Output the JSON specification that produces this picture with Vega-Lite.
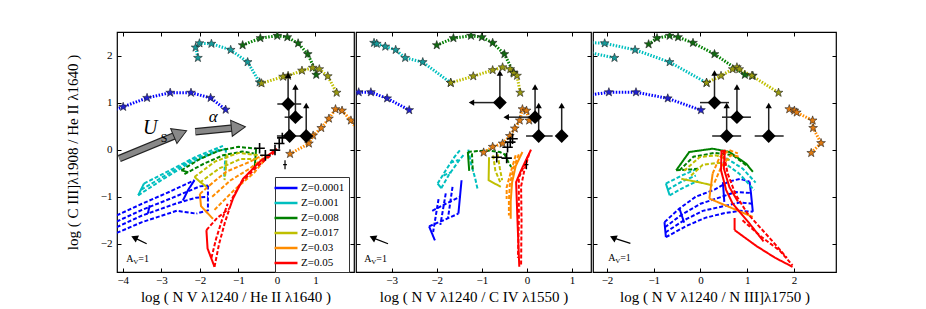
{
"$schema": "https://vega.github.io/schema/vega-lite/v6.json",
"padding": {"left": 64, "top": 30, "right": 5, "bottom": 5},
"background": "white",
"spacing": -3,
"config": {
 "view": {"stroke": "black", "strokeWidth": 1.2},
 "axis": {"labelFont": "Liberation Serif", "titleFont": "Liberation Serif", "labelFontSize": 11, "titleFontSize": 15, "titleFontWeight": "normal", "tickSize": -4, "tickColor": "black", "tickWidth": 1, "domain": false, "grid": false, "labelColor": "black", "titleColor": "black", "minExtent": 0, "format": "d"},
 "axisX": {"labelPadding": 6, "titlePadding": 4},
 "axisY": {"labelPadding": 9, "titlePadding": 20}
},
"datasets": {
 "grid": [
  {"p":1,"z":"Z=0.0001","s":"b1","d":"dashed","x":-4.3,"y":-1.45},{"p":1,"z":"Z=0.0001","s":"b1","d":"dashed","x":-3.5,"y":-1.15},{"p":1,"z":"Z=0.0001","s":"b1","d":"dashed","x":-2.8,"y":-0.9},{"p":1,"z":"Z=0.0001","s":"b1","d":"dashed","x":-2.14,"y":-0.65},
  {"p":1,"z":"Z=0.0001","s":"b2","d":"dashed","x":-4.3,"y":-1.58},{"p":1,"z":"Z=0.0001","s":"b2","d":"dashed","x":-3.5,"y":-1.28},{"p":1,"z":"Z=0.0001","s":"b2","d":"dashed","x":-2.7,"y":-1.02},{"p":1,"z":"Z=0.0001","s":"b2","d":"dashed","x":-2.0,"y":-0.78},{"p":1,"z":"Z=0.0001","s":"b2","d":"dashed","x":-1.79,"y":-0.76},
  {"p":1,"z":"Z=0.0001","s":"b3","d":"dashed","x":-4.3,"y":-1.7},{"p":1,"z":"Z=0.0001","s":"b3","d":"dashed","x":-3.5,"y":-1.4},{"p":1,"z":"Z=0.0001","s":"b3","d":"dashed","x":-2.6,"y":-1.14},{"p":1,"z":"Z=0.0001","s":"b3","d":"dashed","x":-2.1,"y":-1.02},{"p":1,"z":"Z=0.0001","s":"b3","d":"dashed","x":-1.79,"y":-1.0},
  {"p":1,"z":"Z=0.0001","s":"b4","d":"dashed","x":-4.3,"y":-1.82},{"p":1,"z":"Z=0.0001","s":"b4","d":"dashed","x":-3.5,"y":-1.54},{"p":1,"z":"Z=0.0001","s":"b4","d":"dashed","x":-2.6,"y":-1.3},{"p":1,"z":"Z=0.0001","s":"b4","d":"dashed","x":-2.09,"y":-1.36},
  {"p":1,"z":"Z=0.0001","s":"b5","d":"solid","x":-2.14,"y":-0.65},{"p":1,"z":"Z=0.0001","s":"b5","d":"solid","x":-2.3,"y":-0.85},{"p":1,"z":"Z=0.0001","s":"b5","d":"solid","x":-2.44,"y":-1.08},
  {"p":1,"z":"Z=0.0001","s":"b6","d":"solid","x":-3.3,"y":-1.18},{"p":1,"z":"Z=0.0001","s":"b6","d":"solid","x":-3.35,"y":-1.36},
  {"p":1,"z":"Z=0.0001","s":"b7","d":"dashed","x":-1.79,"y":-0.76},{"p":1,"z":"Z=0.0001","s":"b7","d":"dashed","x":-1.79,"y":-1.29},{"p":1,"z":"Z=0.0001","s":"b7","d":"dashed","x":-2.09,"y":-1.36},
  {"p":1,"z":"Z=0.001","s":"c1","d":"dashed","x":-3.6,"y":-0.97},{"p":1,"z":"Z=0.001","s":"c1","d":"dashed","x":-3.0,"y":-0.65},{"p":1,"z":"Z=0.001","s":"c1","d":"dashed","x":-2.3,"y":-0.3},{"p":1,"z":"Z=0.001","s":"c1","d":"dashed","x":-1.6,"y":-0.05},{"p":1,"z":"Z=0.001","s":"c1","d":"dashed","x":-1.32,"y":0.02},
  {"p":1,"z":"Z=0.001","s":"c2","d":"dashed","x":-3.52,"y":-0.85},{"p":1,"z":"Z=0.001","s":"c2","d":"dashed","x":-2.9,"y":-0.55},{"p":1,"z":"Z=0.001","s":"c2","d":"dashed","x":-2.2,"y":-0.22},{"p":1,"z":"Z=0.001","s":"c2","d":"dashed","x":-1.5,"y":0.0},
  {"p":1,"z":"Z=0.001","s":"c3","d":"dashed","x":-3.45,"y":-0.72},{"p":1,"z":"Z=0.001","s":"c3","d":"dashed","x":-2.8,"y":-0.45},{"p":1,"z":"Z=0.001","s":"c3","d":"dashed","x":-2.1,"y":-0.15},{"p":1,"z":"Z=0.001","s":"c3","d":"dashed","x":-1.4,"y":0.08},
  {"p":1,"z":"Z=0.001","s":"c4","d":"solid","x":-3.6,"y":-0.97},{"p":1,"z":"Z=0.001","s":"c4","d":"solid","x":-3.45,"y":-0.72},
  {"p":1,"z":"Z=0.001","s":"c5","d":"dashed","x":-1.32,"y":0.02},{"p":1,"z":"Z=0.001","s":"c5","d":"dashed","x":-1.35,"y":-0.3},{"p":1,"z":"Z=0.001","s":"c5","d":"dashed","x":-1.37,"y":-0.62},
  {"p":1,"z":"Z=0.008","s":"g1","d":"dashed","x":-2.48,"y":-0.44},{"p":1,"z":"Z=0.008","s":"g1","d":"dashed","x":-2.0,"y":-0.2},{"p":1,"z":"Z=0.008","s":"g1","d":"dashed","x":-1.5,"y":-0.02},{"p":1,"z":"Z=0.008","s":"g1","d":"dashed","x":-1.0,"y":0.06},{"p":1,"z":"Z=0.008","s":"g1","d":"dashed","x":-0.54,"y":0.02},
  {"p":1,"z":"Z=0.008","s":"g2","d":"dashed","x":-2.4,"y":-0.52},{"p":1,"z":"Z=0.008","s":"g2","d":"dashed","x":-1.9,"y":-0.3},{"p":1,"z":"Z=0.008","s":"g2","d":"dashed","x":-1.4,"y":-0.12},{"p":1,"z":"Z=0.008","s":"g2","d":"dashed","x":-0.9,"y":-0.04},{"p":1,"z":"Z=0.008","s":"g2","d":"dashed","x":-0.6,"y":-0.08},
  {"p":1,"z":"Z=0.008","s":"g3","d":"solid","x":-0.54,"y":0.02},{"p":1,"z":"Z=0.008","s":"g3","d":"solid","x":-0.56,"y":-0.2},{"p":1,"z":"Z=0.008","s":"g3","d":"solid","x":-0.58,"y":-0.4},
  {"p":1,"z":"Z=0.008","s":"g4","d":"solid","x":-2.48,"y":-0.44},{"p":1,"z":"Z=0.008","s":"g4","d":"solid","x":-2.3,"y":-0.48},
  {"p":1,"z":"Z=0.017","s":"y1","d":"dashed","x":-2.14,"y":-0.58},{"p":1,"z":"Z=0.017","s":"y1","d":"dashed","x":-1.6,"y":-0.25},{"p":1,"z":"Z=0.017","s":"y1","d":"dashed","x":-1.0,"y":-0.07},{"p":1,"z":"Z=0.017","s":"y1","d":"dashed","x":-0.45,"y":-0.12},
  {"p":1,"z":"Z=0.017","s":"y2","d":"dashed","x":-2.0,"y":-0.7},{"p":1,"z":"Z=0.017","s":"y2","d":"dashed","x":-1.5,"y":-0.4},{"p":1,"z":"Z=0.017","s":"y2","d":"dashed","x":-0.95,"y":-0.2},{"p":1,"z":"Z=0.017","s":"y2","d":"dashed","x":-0.45,"y":-0.2},
  {"p":1,"z":"Z=0.017","s":"y3","d":"solid","x":-2.14,"y":-0.58},{"p":1,"z":"Z=0.017","s":"y3","d":"solid","x":-2.0,"y":-0.68},{"p":1,"z":"Z=0.017","s":"y3","d":"solid","x":-1.83,"y":-0.79},
  {"p":1,"z":"Z=0.017","s":"y4","d":"dashed","x":-1.3,"y":-0.1},{"p":1,"z":"Z=0.017","s":"y4","d":"dashed","x":-1.33,"y":-0.45},{"p":1,"z":"Z=0.017","s":"y4","d":"dashed","x":-1.36,"y":-0.65},
  {"p":1,"z":"Z=0.03","s":"o1","d":"solid","x":-2.0,"y":-0.94},{"p":1,"z":"Z=0.03","s":"o1","d":"solid","x":-1.97,"y":-1.2},{"p":1,"z":"Z=0.03","s":"o1","d":"solid","x":-1.66,"y":-1.47},
  {"p":1,"z":"Z=0.03","s":"o2","d":"dashed","x":-1.75,"y":-0.76},{"p":1,"z":"Z=0.03","s":"o2","d":"dashed","x":-1.32,"y":-0.47},{"p":1,"z":"Z=0.03","s":"o2","d":"dashed","x":-0.71,"y":-0.26},{"p":1,"z":"Z=0.03","s":"o2","d":"dashed","x":-0.37,"y":-0.12},
  {"p":1,"z":"Z=0.03","s":"o3","d":"dashed","x":-1.68,"y":-1.0},{"p":1,"z":"Z=0.03","s":"o3","d":"dashed","x":-1.2,"y":-0.65},{"p":1,"z":"Z=0.03","s":"o3","d":"dashed","x":-0.7,"y":-0.4},{"p":1,"z":"Z=0.03","s":"o3","d":"dashed","x":-0.3,"y":-0.15},
  {"p":1,"z":"Z=0.03","s":"o4","d":"dashed","x":-1.62,"y":-1.28},{"p":1,"z":"Z=0.03","s":"o4","d":"dashed","x":-1.1,"y":-0.85},{"p":1,"z":"Z=0.03","s":"o4","d":"dashed","x":-0.6,"y":-0.5},{"p":1,"z":"Z=0.03","s":"o4","d":"dashed","x":-0.25,"y":-0.15},
  {"p":1,"z":"Z=0.03","s":"o5","d":"dashed","x":-2.0,"y":-0.94},{"p":1,"z":"Z=0.03","s":"o5","d":"dashed","x":-1.75,"y":-0.76},
  {"p":1,"z":"Z=0.05","s":"r1","d":"solid","x":0.0,"y":0.02},{"p":1,"z":"Z=0.05","s":"r1","d":"solid","x":-0.45,"y":-0.26},{"p":1,"z":"Z=0.05","s":"r1","d":"solid","x":-0.88,"y":-0.62},{"p":1,"z":"Z=0.05","s":"r1","d":"solid","x":-1.14,"y":-1.04},{"p":1,"z":"Z=0.05","s":"r1","d":"solid","x":-1.23,"y":-1.25},
  {"p":1,"z":"Z=0.05","s":"r2","d":"solid","x":-1.83,"y":-1.71},{"p":1,"z":"Z=0.05","s":"r2","d":"solid","x":-1.8,"y":-2.1},{"p":1,"z":"Z=0.05","s":"r2","d":"solid","x":-1.62,"y":-2.49},
  {"p":1,"z":"Z=0.05","s":"r3","d":"dashed","x":-1.62,"y":-2.49},{"p":1,"z":"Z=0.05","s":"r3","d":"dashed","x":-1.5,"y":-2.0},{"p":1,"z":"Z=0.05","s":"r3","d":"dashed","x":-1.35,"y":-1.55},{"p":1,"z":"Z=0.05","s":"r3","d":"dashed","x":-1.23,"y":-1.25},
  {"p":1,"z":"Z=0.05","s":"r4","d":"dashed","x":-1.7,"y":-2.3},{"p":1,"z":"Z=0.05","s":"r4","d":"dashed","x":-1.58,"y":-1.9},{"p":1,"z":"Z=0.05","s":"r4","d":"dashed","x":-1.42,"y":-1.48},{"p":1,"z":"Z=0.05","s":"r4","d":"dashed","x":-1.28,"y":-1.15},
  {"p":1,"z":"Z=0.05","s":"r5","d":"dashed","x":-1.83,"y":-1.71},{"p":1,"z":"Z=0.05","s":"r5","d":"dashed","x":-1.55,"y":-1.45},{"p":1,"z":"Z=0.05","s":"r5","d":"dashed","x":-1.23,"y":-1.25},
  {"p":1,"z":"Z=0.05","s":"r6","d":"dashed","x":-0.05,"y":-0.05},{"p":1,"z":"Z=0.05","s":"r6","d":"dashed","x":-0.5,"y":-0.35},{"p":1,"z":"Z=0.05","s":"r6","d":"dashed","x":-0.95,"y":-0.72},{"p":1,"z":"Z=0.05","s":"r6","d":"dashed","x":-1.2,"y":-1.1},
  {"p":2,"z":"Z=0.0001","s":"b1","d":"solid","x":-1.45,"y":-0.65},{"p":2,"z":"Z=0.0001","s":"b1","d":"solid","x":-1.52,"y":-1.36},
  {"p":2,"z":"Z=0.0001","s":"b2","d":"dashed","x":-1.65,"y":-0.79},{"p":2,"z":"Z=0.0001","s":"b2","d":"dashed","x":-1.75,"y":-1.45},
  {"p":2,"z":"Z=0.0001","s":"b3","d":"dashed","x":-1.8,"y":-0.93},{"p":2,"z":"Z=0.0001","s":"b3","d":"dashed","x":-1.92,"y":-1.6},
  {"p":2,"z":"Z=0.0001","s":"b4","d":"dashed","x":-1.96,"y":-1.05},{"p":2,"z":"Z=0.0001","s":"b4","d":"dashed","x":-2.08,"y":-1.75},
  {"p":2,"z":"Z=0.0001","s":"b5","d":"solid","x":-2.17,"y":-1.63},{"p":2,"z":"Z=0.0001","s":"b5","d":"solid","x":-2.04,"y":-1.93},
  {"p":2,"z":"Z=0.0001","s":"b6","d":"dashed","x":-2.17,"y":-1.63},{"p":2,"z":"Z=0.0001","s":"b6","d":"dashed","x":-1.85,"y":-1.5},{"p":2,"z":"Z=0.0001","s":"b6","d":"dashed","x":-1.52,"y":-1.36},
  {"p":2,"z":"Z=0.0001","s":"b7","d":"dashed","x":-2.1,"y":-1.3},{"p":2,"z":"Z=0.0001","s":"b7","d":"dashed","x":-1.8,"y":-1.15},{"p":2,"z":"Z=0.0001","s":"b7","d":"dashed","x":-1.48,"y":-1.0},
  {"p":2,"z":"Z=0.001","s":"c1","d":"dashed","x":-1.98,"y":-0.72},{"p":2,"z":"Z=0.001","s":"c1","d":"dashed","x":-1.8,"y":-0.44},{"p":2,"z":"Z=0.001","s":"c1","d":"dashed","x":-1.61,"y":-0.16},{"p":2,"z":"Z=0.001","s":"c1","d":"dashed","x":-1.46,"y":0.02},
  {"p":2,"z":"Z=0.001","s":"c2","d":"dashed","x":-1.9,"y":-0.82},{"p":2,"z":"Z=0.001","s":"c2","d":"dashed","x":-1.72,"y":-0.52},{"p":2,"z":"Z=0.001","s":"c2","d":"dashed","x":-1.52,"y":-0.25},{"p":2,"z":"Z=0.001","s":"c2","d":"dashed","x":-1.38,"y":-0.08},
  {"p":2,"z":"Z=0.001","s":"c3","d":"solid","x":-1.98,"y":-0.72},{"p":2,"z":"Z=0.001","s":"c3","d":"solid","x":-1.9,"y":-0.82},
  {"p":2,"z":"Z=0.001","s":"c4","d":"dashed","x":-1.3,"y":0.0},{"p":2,"z":"Z=0.001","s":"c4","d":"dashed","x":-1.24,"y":-0.3},{"p":2,"z":"Z=0.001","s":"c4","d":"dashed","x":-1.15,"y":-0.6},{"p":2,"z":"Z=0.001","s":"c4","d":"dashed","x":-1.09,"y":-0.86},
  {"p":2,"z":"Z=0.001","s":"c5","d":"dashed","x":-1.85,"y":-0.55},{"p":2,"z":"Z=0.001","s":"c5","d":"dashed","x":-1.68,"y":-0.48},
  {"p":2,"z":"Z=0.001","s":"c6","d":"dashed","x":-1.7,"y":-0.28},{"p":2,"z":"Z=0.001","s":"c6","d":"dashed","x":-1.52,"y":-0.22},
  {"p":2,"z":"Z=0.008","s":"g1","d":"solid","x":-1.31,"y":-0.05},{"p":2,"z":"Z=0.008","s":"g1","d":"solid","x":-1.28,"y":-0.45},
  {"p":2,"z":"Z=0.008","s":"g2","d":"dashed","x":-1.31,"y":-0.05},{"p":2,"z":"Z=0.008","s":"g2","d":"dashed","x":-1.1,"y":-0.03},{"p":2,"z":"Z=0.008","s":"g2","d":"dashed","x":-0.87,"y":-0.02},{"p":2,"z":"Z=0.008","s":"g2","d":"dashed","x":-0.6,"y":-0.05},{"p":2,"z":"Z=0.008","s":"g2","d":"dashed","x":-0.45,"y":-0.12},
  {"p":2,"z":"Z=0.008","s":"g3","d":"dashed","x":-1.22,"y":-0.08},{"p":2,"z":"Z=0.008","s":"g3","d":"dashed","x":-1.2,"y":-0.47},
  {"p":2,"z":"Z=0.008","s":"g4","d":"dashed","x":-0.5,"y":-0.09},{"p":2,"z":"Z=0.008","s":"g4","d":"dashed","x":-0.42,"y":-0.25},{"p":2,"z":"Z=0.008","s":"g4","d":"dashed","x":-0.35,"y":-0.37},
  {"p":2,"z":"Z=0.017","s":"y1","d":"solid","x":-0.84,"y":-0.16},{"p":2,"z":"Z=0.017","s":"y1","d":"solid","x":-0.85,"y":-0.65},{"p":2,"z":"Z=0.017","s":"y1","d":"solid","x":-0.58,"y":-0.79},
  {"p":2,"z":"Z=0.017","s":"y2","d":"dashed","x":-0.75,"y":-0.12},{"p":2,"z":"Z=0.017","s":"y2","d":"dashed","x":-0.7,"y":-0.45},{"p":2,"z":"Z=0.017","s":"y2","d":"dashed","x":-0.58,"y":-0.72},
  {"p":2,"z":"Z=0.017","s":"y3","d":"dashed","x":-0.65,"y":-0.1},{"p":2,"z":"Z=0.017","s":"y3","d":"dashed","x":-0.6,"y":-0.4},{"p":2,"z":"Z=0.017","s":"y3","d":"dashed","x":-0.55,"y":-0.65},
  {"p":2,"z":"Z=0.03","s":"o1","d":"solid","x":-0.1,"y":-0.05},{"p":2,"z":"Z=0.03","s":"o1","d":"solid","x":-0.25,"y":-0.35},{"p":2,"z":"Z=0.03","s":"o1","d":"solid","x":-0.33,"y":-0.7},{"p":2,"z":"Z=0.03","s":"o1","d":"solid","x":-0.36,"y":-1.1},{"p":2,"z":"Z=0.03","s":"o1","d":"solid","x":-0.36,"y":-1.47},
  {"p":2,"z":"Z=0.03","s":"o2","d":"dashed","x":-0.18,"y":-0.1},{"p":2,"z":"Z=0.03","s":"o2","d":"dashed","x":-0.3,"y":-0.4},{"p":2,"z":"Z=0.03","s":"o2","d":"dashed","x":-0.38,"y":-0.75},{"p":2,"z":"Z=0.03","s":"o2","d":"dashed","x":-0.4,"y":-1.1},{"p":2,"z":"Z=0.03","s":"o2","d":"dashed","x":-0.4,"y":-1.4},
  {"p":2,"z":"Z=0.03","s":"o3","d":"dashed","x":-0.25,"y":-0.12},{"p":2,"z":"Z=0.03","s":"o3","d":"dashed","x":-0.35,"y":-0.45},{"p":2,"z":"Z=0.03","s":"o3","d":"dashed","x":-0.45,"y":-0.8},{"p":2,"z":"Z=0.03","s":"o3","d":"dashed","x":-0.45,"y":-1.05},
  {"p":2,"z":"Z=0.05","s":"r1","d":"solid","x":0.09,"y":0.0},{"p":2,"z":"Z=0.05","s":"r1","d":"solid","x":-0.13,"y":-0.44},{"p":2,"z":"Z=0.05","s":"r1","d":"solid","x":-0.24,"y":-0.69},{"p":2,"z":"Z=0.05","s":"r1","d":"solid","x":-0.21,"y":-1.5},{"p":2,"z":"Z=0.05","s":"r1","d":"solid","x":-0.17,"y":-2.49},
  {"p":2,"z":"Z=0.05","s":"r2","d":"dashed","x":0.05,"y":-0.08},{"p":2,"z":"Z=0.05","s":"r2","d":"dashed","x":-0.06,"y":-0.45},{"p":2,"z":"Z=0.05","s":"r2","d":"dashed","x":-0.13,"y":-0.78},{"p":2,"z":"Z=0.05","s":"r2","d":"dashed","x":-0.12,"y":-1.5},{"p":2,"z":"Z=0.05","s":"r2","d":"dashed","x":-0.13,"y":-2.45},
  {"p":2,"z":"Z=0.05","s":"r3","d":"dashed","x":0.02,"y":-0.15},{"p":2,"z":"Z=0.05","s":"r3","d":"dashed","x":-0.18,"y":-0.6},{"p":2,"z":"Z=0.05","s":"r3","d":"dashed","x":-0.18,"y":-1.5},{"p":2,"z":"Z=0.05","s":"r3","d":"dashed","x":-0.2,"y":-2.3},
  {"p":3,"z":"Z=0.0001","s":"b1","d":"dashed","x":-0.77,"y":-1.54},{"p":3,"z":"Z=0.0001","s":"b1","d":"dashed","x":-0.45,"y":-1.25},{"p":3,"z":"Z=0.0001","s":"b1","d":"dashed","x":-0.1,"y":-1.0},{"p":3,"z":"Z=0.0001","s":"b1","d":"dashed","x":0.3,"y":-0.85},{"p":3,"z":"Z=0.0001","s":"b1","d":"dashed","x":0.6,"y":-0.68},{"p":3,"z":"Z=0.0001","s":"b1","d":"dashed","x":0.85,"y":-0.62},{"p":3,"z":"Z=0.0001","s":"b1","d":"dashed","x":1.05,"y":-0.68},
  {"p":3,"z":"Z=0.0001","s":"b2","d":"dashed","x":-0.76,"y":-1.65},{"p":3,"z":"Z=0.0001","s":"b2","d":"dashed","x":-0.4,"y":-1.38},{"p":3,"z":"Z=0.0001","s":"b2","d":"dashed","x":0.0,"y":-1.15},{"p":3,"z":"Z=0.0001","s":"b2","d":"dashed","x":0.4,"y":-1.02},{"p":3,"z":"Z=0.0001","s":"b2","d":"dashed","x":0.75,"y":-0.9},{"p":3,"z":"Z=0.0001","s":"b2","d":"dashed","x":1.08,"y":-0.92},
  {"p":3,"z":"Z=0.0001","s":"b3","d":"dashed","x":-0.75,"y":-1.76},{"p":3,"z":"Z=0.0001","s":"b3","d":"dashed","x":-0.35,"y":-1.5},{"p":3,"z":"Z=0.0001","s":"b3","d":"dashed","x":0.05,"y":-1.3},{"p":3,"z":"Z=0.0001","s":"b3","d":"dashed","x":0.5,"y":-1.2},{"p":3,"z":"Z=0.0001","s":"b3","d":"dashed","x":0.85,"y":-1.12},{"p":3,"z":"Z=0.0001","s":"b3","d":"dashed","x":1.1,"y":-1.15},
  {"p":3,"z":"Z=0.0001","s":"b4","d":"dashed","x":-0.74,"y":-1.86},{"p":3,"z":"Z=0.0001","s":"b4","d":"dashed","x":-0.3,"y":-1.62},{"p":3,"z":"Z=0.0001","s":"b4","d":"dashed","x":0.1,"y":-1.45},{"p":3,"z":"Z=0.0001","s":"b4","d":"dashed","x":0.5,"y":-1.35},{"p":3,"z":"Z=0.0001","s":"b4","d":"dashed","x":0.85,"y":-1.3},{"p":3,"z":"Z=0.0001","s":"b4","d":"dashed","x":1.12,"y":-1.32},
  {"p":3,"z":"Z=0.0001","s":"b5","d":"solid","x":1.05,"y":-0.68},{"p":3,"z":"Z=0.0001","s":"b5","d":"solid","x":1.08,"y":-0.92},{"p":3,"z":"Z=0.0001","s":"b5","d":"solid","x":1.12,"y":-1.32},
  {"p":3,"z":"Z=0.0001","s":"b6","d":"solid","x":-0.77,"y":-1.54},{"p":3,"z":"Z=0.0001","s":"b6","d":"solid","x":-0.74,"y":-1.86},
  {"p":3,"z":"Z=0.0001","s":"b7","d":"solid","x":0.48,"y":-0.69},{"p":3,"z":"Z=0.0001","s":"b7","d":"solid","x":0.51,"y":-1.11},
  {"p":3,"z":"Z=0.0001","s":"b8","d":"solid","x":-0.45,"y":-1.25},{"p":3,"z":"Z=0.0001","s":"b8","d":"solid","x":-0.35,"y":-1.55},
  {"p":3,"z":"Z=0.001","s":"c1","d":"dashed","x":-0.74,"y":-0.72},{"p":3,"z":"Z=0.001","s":"c1","d":"dashed","x":-0.4,"y":-0.55},{"p":3,"z":"Z=0.001","s":"c1","d":"dashed","x":-0.1,"y":-0.42},
  {"p":3,"z":"Z=0.001","s":"c2","d":"dashed","x":-0.7,"y":-0.85},{"p":3,"z":"Z=0.001","s":"c2","d":"dashed","x":-0.4,"y":-0.68},{"p":3,"z":"Z=0.001","s":"c2","d":"dashed","x":-0.1,"y":-0.55},
  {"p":3,"z":"Z=0.001","s":"c3","d":"dashed","x":-0.66,"y":-0.97},{"p":3,"z":"Z=0.001","s":"c3","d":"dashed","x":-0.35,"y":-0.8},{"p":3,"z":"Z=0.001","s":"c3","d":"dashed","x":-0.05,"y":-0.66},
  {"p":3,"z":"Z=0.001","s":"c4","d":"solid","x":-0.74,"y":-0.72},{"p":3,"z":"Z=0.001","s":"c4","d":"solid","x":-0.66,"y":-0.97},
  {"p":3,"z":"Z=0.001","s":"c5","d":"dashed","x":0.48,"y":-0.26},{"p":3,"z":"Z=0.001","s":"c5","d":"dashed","x":0.83,"y":-0.51},{"p":3,"z":"Z=0.001","s":"c5","d":"dashed","x":1.15,"y":-0.86},
  {"p":3,"z":"Z=0.001","s":"c6","d":"dashed","x":0.55,"y":-0.18},{"p":3,"z":"Z=0.001","s":"c6","d":"dashed","x":0.9,"y":-0.4},{"p":3,"z":"Z=0.001","s":"c6","d":"dashed","x":1.18,"y":-0.7},
  {"p":3,"z":"Z=0.008","s":"g1","d":"solid","x":-0.52,"y":-0.44},{"p":3,"z":"Z=0.008","s":"g1","d":"solid","x":-0.24,"y":-0.05},{"p":3,"z":"Z=0.008","s":"g1","d":"solid","x":0.26,"y":0.02},{"p":3,"z":"Z=0.008","s":"g1","d":"solid","x":0.62,"y":-0.05},{"p":3,"z":"Z=0.008","s":"g1","d":"solid","x":0.98,"y":-0.3},{"p":3,"z":"Z=0.008","s":"g1","d":"solid","x":1.12,"y":-0.47},
  {"p":3,"z":"Z=0.008","s":"g2","d":"dashed","x":-0.45,"y":-0.44},{"p":3,"z":"Z=0.008","s":"g2","d":"dashed","x":-0.15,"y":-0.15},{"p":3,"z":"Z=0.008","s":"g2","d":"dashed","x":0.3,"y":-0.07},{"p":3,"z":"Z=0.008","s":"g2","d":"dashed","x":0.7,"y":-0.12},{"p":3,"z":"Z=0.008","s":"g2","d":"dashed","x":1.0,"y":-0.35},
  {"p":3,"z":"Z=0.008","s":"g3","d":"dashed","x":-0.52,"y":-0.44},{"p":3,"z":"Z=0.008","s":"g3","d":"dashed","x":-0.2,"y":-0.42},{"p":3,"z":"Z=0.008","s":"g3","d":"dashed","x":0.0,"y":-0.4},
  {"p":3,"z":"Z=0.017","s":"y1","d":"solid","x":-0.41,"y":-0.62},{"p":3,"z":"Z=0.017","s":"y1","d":"solid","x":0.0,"y":-0.7},{"p":3,"z":"Z=0.017","s":"y1","d":"solid","x":0.26,"y":-0.76},
  {"p":3,"z":"Z=0.017","s":"y2","d":"dashed","x":-0.35,"y":-0.45},{"p":3,"z":"Z=0.017","s":"y2","d":"dashed","x":-0.02,"y":-0.16},{"p":3,"z":"Z=0.017","s":"y2","d":"dashed","x":0.33,"y":-0.12},{"p":3,"z":"Z=0.017","s":"y2","d":"dashed","x":0.62,"y":-0.22},
  {"p":3,"z":"Z=0.017","s":"y3","d":"dashed","x":-0.2,"y":-0.55},{"p":3,"z":"Z=0.017","s":"y3","d":"dashed","x":0.05,"y":-0.32},{"p":3,"z":"Z=0.017","s":"y3","d":"dashed","x":0.4,"y":-0.28},{"p":3,"z":"Z=0.017","s":"y3","d":"dashed","x":0.6,"y":-0.35},
  {"p":3,"z":"Z=0.03","s":"o1","d":"solid","x":0.19,"y":-1.04},{"p":3,"z":"Z=0.03","s":"o1","d":"solid","x":0.62,"y":-1.22},{"p":3,"z":"Z=0.03","s":"o1","d":"solid","x":1.12,"y":-1.43},
  {"p":3,"z":"Z=0.03","s":"o2","d":"dashed","x":0.26,"y":-0.51},{"p":3,"z":"Z=0.03","s":"o2","d":"dashed","x":0.41,"y":-0.16},{"p":3,"z":"Z=0.03","s":"o2","d":"dashed","x":0.62,"y":-0.01},{"p":3,"z":"Z=0.03","s":"o2","d":"dashed","x":0.8,"y":-0.08},
  {"p":3,"z":"Z=0.03","s":"o3","d":"dashed","x":0.3,"y":-0.7},{"p":3,"z":"Z=0.03","s":"o3","d":"dashed","x":0.45,"y":-0.35},{"p":3,"z":"Z=0.03","s":"o3","d":"dashed","x":0.65,"y":-0.12},{"p":3,"z":"Z=0.03","s":"o3","d":"dashed","x":0.85,"y":-0.15},
  {"p":3,"z":"Z=0.03","s":"o4","d":"solid","x":0.19,"y":-1.04},{"p":3,"z":"Z=0.03","s":"o4","d":"solid","x":0.26,"y":-0.51},
  {"p":3,"z":"Z=0.05","s":"r1","d":"solid","x":0.45,"y":-0.01},{"p":3,"z":"Z=0.05","s":"r1","d":"solid","x":0.44,"y":-0.44},{"p":3,"z":"Z=0.05","s":"r1","d":"solid","x":0.55,"y":-0.86},{"p":3,"z":"Z=0.05","s":"r1","d":"solid","x":0.69,"y":-1.15},{"p":3,"z":"Z=0.05","s":"r1","d":"solid","x":1.05,"y":-1.57},{"p":3,"z":"Z=0.05","s":"r1","d":"solid","x":1.35,"y":-1.95},
  {"p":3,"z":"Z=0.05","s":"r2","d":"solid","x":0.52,"y":0.0},{"p":3,"z":"Z=0.05","s":"r2","d":"solid","x":0.5,"y":-0.4},{"p":3,"z":"Z=0.05","s":"r2","d":"solid","x":0.62,"y":-0.8},{"p":3,"z":"Z=0.05","s":"r2","d":"solid","x":0.8,"y":-1.1},
  {"p":3,"z":"Z=0.05","s":"r3","d":"solid","x":0.73,"y":-1.71},{"p":3,"z":"Z=0.05","s":"r3","d":"solid","x":1.2,"y":-2.05},{"p":3,"z":"Z=0.05","s":"r3","d":"solid","x":1.6,"y":-2.3},{"p":3,"z":"Z=0.05","s":"r3","d":"solid","x":1.97,"y":-2.49},
  {"p":3,"z":"Z=0.05","s":"r4","d":"dashed","x":0.9,"y":-1.5},{"p":3,"z":"Z=0.05","s":"r4","d":"dashed","x":1.3,"y":-1.85},{"p":3,"z":"Z=0.05","s":"r4","d":"dashed","x":1.7,"y":-2.15},{"p":3,"z":"Z=0.05","s":"r4","d":"dashed","x":1.97,"y":-2.46},
  {"p":3,"z":"Z=0.05","s":"r5","d":"dashed","x":0.48,"y":-0.01},{"p":3,"z":"Z=0.05","s":"r5","d":"dashed","x":0.58,"y":-0.5},{"p":3,"z":"Z=0.05","s":"r5","d":"dashed","x":0.75,"y":-0.95},{"p":3,"z":"Z=0.05","s":"r5","d":"dashed","x":1.0,"y":-1.35},{"p":3,"z":"Z=0.05","s":"r5","d":"dashed","x":1.5,"y":-1.9},{"p":3,"z":"Z=0.05","s":"r5","d":"dashed","x":1.85,"y":-2.3},
  {"p":3,"z":"Z=0.05","s":"r6","d":"solid","x":0.73,"y":-1.71},{"p":3,"z":"Z=0.05","s":"r6","d":"solid","x":0.73,"y":-1.45}
 ],
 "track": [
  {"p":1,"z":"Z=0.0001","s":"b","m":0,"x":-4.4,"y":0.8},{"p":1,"z":"Z=0.0001","s":"b","m":1,"x":-3.99,"y":0.91},{"p":1,"z":"Z=0.0001","s":"b","m":1,"x":-3.37,"y":1.1},{"p":1,"z":"Z=0.0001","s":"b","m":1,"x":-2.77,"y":1.21},{"p":1,"z":"Z=0.0001","s":"b","m":1,"x":-2.23,"y":1.21},{"p":1,"z":"Z=0.0001","s":"b","m":1,"x":-1.72,"y":1.1},{"p":1,"z":"Z=0.0001","s":"b","m":1,"x":-1.33,"y":0.85},
  {"p":1,"z":"Z=0.001","s":"c","m":1,"x":-2.05,"y":1.95},{"p":1,"z":"Z=0.001","s":"c","m":1,"x":-2.11,"y":2.17},{"p":1,"z":"Z=0.001","s":"c","m":1,"x":-2.01,"y":2.26},{"p":1,"z":"Z=0.001","s":"c","m":1,"x":-1.7,"y":2.25},{"p":1,"z":"Z=0.001","s":"c","m":1,"x":-1.2,"y":2.12},{"p":1,"z":"Z=0.001","s":"c","m":1,"x":-0.76,"y":1.86},{"p":1,"z":"Z=0.001","s":"c","m":1,"x":-0.45,"y":1.43},
  {"p":1,"z":"Z=0.008","s":"g","m":1,"x":-0.89,"y":2.22},{"p":1,"z":"Z=0.008","s":"g","m":1,"x":-0.43,"y":2.37},{"p":1,"z":"Z=0.008","s":"g","m":1,"x":0.01,"y":2.42},{"p":1,"z":"Z=0.008","s":"g","m":1,"x":0.27,"y":2.39},{"p":1,"z":"Z=0.008","s":"g","m":1,"x":0.55,"y":2.26},{"p":1,"z":"Z=0.008","s":"g","m":1,"x":0.8,"y":2.03},{"p":1,"z":"Z=0.008","s":"g","m":0,"x":0.93,"y":1.8},{"p":1,"z":"Z=0.008","s":"g","m":1,"x":1.02,"y":1.59},
  {"p":1,"z":"Z=0.017","s":"y","m":1,"x":-0.4,"y":1.41},{"p":1,"z":"Z=0.017","s":"y","m":1,"x":0.16,"y":1.55},{"p":1,"z":"Z=0.017","s":"y","m":1,"x":0.29,"y":1.57},{"p":1,"z":"Z=0.017","s":"y","m":1,"x":0.65,"y":1.68},{"p":1,"z":"Z=0.017","s":"y","m":1,"x":0.93,"y":1.74},{"p":1,"z":"Z=0.017","s":"y","m":1,"x":1.1,"y":1.71},{"p":1,"z":"Z=0.017","s":"y","m":1,"x":1.32,"y":1.56},{"p":1,"z":"Z=0.017","s":"y","m":1,"x":1.55,"y":1.21},
  {"p":1,"z":"Z=0.03","s":"o","m":1,"x":0.34,"y":-0.09},{"p":1,"z":"Z=0.03","s":"o","m":1,"x":0.83,"y":0.13},{"p":1,"z":"Z=0.03","s":"o","m":1,"x":0.94,"y":0.3},{"p":1,"z":"Z=0.03","s":"o","m":1,"x":1.15,"y":0.46},{"p":1,"z":"Z=0.03","s":"o","m":1,"x":1.35,"y":0.66},{"p":1,"z":"Z=0.03","s":"o","m":1,"x":1.52,"y":0.86},{"p":1,"z":"Z=0.03","s":"o","m":1,"x":1.69,"y":0.83},{"p":1,"z":"Z=0.03","s":"o","m":1,"x":1.92,"y":0.62},{"p":1,"z":"Z=0.03","s":"o","m":0,"x":2.15,"y":0.35},
  {"p":2,"z":"Z=0.0001","s":"b","m":0,"x":-4.0,"y":1.22},{"p":2,"z":"Z=0.0001","s":"b","m":1,"x":-3.73,"y":1.22},{"p":2,"z":"Z=0.0001","s":"b","m":1,"x":-3.46,"y":1.22},{"p":2,"z":"Z=0.0001","s":"b","m":1,"x":-3.1,"y":1.09},{"p":2,"z":"Z=0.0001","s":"b","m":1,"x":-2.61,"y":0.84},
  {"p":2,"z":"Z=0.001","s":"c","m":1,"x":-3.39,"y":2.27},{"p":2,"z":"Z=0.001","s":"c","m":1,"x":-3.33,"y":2.25},{"p":2,"z":"Z=0.001","s":"c","m":1,"x":-3.14,"y":2.19},{"p":2,"z":"Z=0.001","s":"c","m":1,"x":-2.91,"y":2.12},{"p":2,"z":"Z=0.001","s":"c","m":1,"x":-2.7,"y":1.95},{"p":2,"z":"Z=0.001","s":"c","m":1,"x":-2.31,"y":1.86},{"p":2,"z":"Z=0.001","s":"c","m":1,"x":-1.69,"y":1.42},
  {"p":2,"z":"Z=0.008","s":"g","m":1,"x":-2.0,"y":2.22},{"p":2,"z":"Z=0.008","s":"g","m":1,"x":-1.63,"y":2.37},{"p":2,"z":"Z=0.008","s":"g","m":1,"x":-1.24,"y":2.42},{"p":2,"z":"Z=0.008","s":"g","m":1,"x":-1.0,"y":2.39},{"p":2,"z":"Z=0.008","s":"g","m":1,"x":-0.76,"y":2.27},{"p":2,"z":"Z=0.008","s":"g","m":1,"x":-0.5,"y":2.03},{"p":2,"z":"Z=0.008","s":"g","m":0,"x":-0.38,"y":1.8},{"p":2,"z":"Z=0.008","s":"g","m":1,"x":-0.3,"y":1.64},
  {"p":2,"z":"Z=0.017","s":"y","m":1,"x":-1.69,"y":1.42},{"p":2,"z":"Z=0.017","s":"y","m":1,"x":-1.19,"y":1.56},{"p":2,"z":"Z=0.017","s":"y","m":1,"x":-0.76,"y":1.69},{"p":2,"z":"Z=0.017","s":"y","m":1,"x":-0.54,"y":1.75},{"p":2,"z":"Z=0.017","s":"y","m":1,"x":-0.37,"y":1.71},{"p":2,"z":"Z=0.017","s":"y","m":1,"x":-0.29,"y":1.62},{"p":2,"z":"Z=0.017","s":"y","m":1,"x":-0.22,"y":1.57},{"p":2,"z":"Z=0.017","s":"y","m":1,"x":-0.15,"y":1.21},
  {"p":2,"z":"Z=0.03","s":"o","m":1,"x":-0.96,"y":-0.06},{"p":2,"z":"Z=0.03","s":"o","m":1,"x":-0.76,"y":0.06},{"p":2,"z":"Z=0.03","s":"o","m":1,"x":-0.54,"y":0.13},{"p":2,"z":"Z=0.03","s":"o","m":1,"x":-0.38,"y":0.29},{"p":2,"z":"Z=0.03","s":"o","m":1,"x":-0.27,"y":0.45},{"p":2,"z":"Z=0.03","s":"o","m":1,"x":-0.16,"y":0.62},{"p":2,"z":"Z=0.03","s":"o","m":1,"x":-0.1,"y":0.86},{"p":2,"z":"Z=0.03","s":"o","m":1,"x":-0.01,"y":0.83},{"p":2,"z":"Z=0.03","s":"o","m":1,"x":0.05,"y":0.62},
  {"p":3,"z":"Z=0.0001","s":"b","m":0,"x":-2.45,"y":1.15},{"p":3,"z":"Z=0.0001","s":"b","m":1,"x":-1.96,"y":1.22},{"p":3,"z":"Z=0.0001","s":"b","m":1,"x":-1.38,"y":1.22},{"p":3,"z":"Z=0.0001","s":"b","m":1,"x":-0.7,"y":1.09},{"p":3,"z":"Z=0.0001","s":"b","m":1,"x":0.01,"y":0.84},
  {"p":3,"z":"Z=0.001","s":"c","m":0,"x":-2.45,"y":2.28},{"p":3,"z":"Z=0.001","s":"c","m":1,"x":-2.05,"y":2.26},{"p":3,"z":"Z=0.001","s":"c","m":1,"x":-1.4,"y":2.12},{"p":3,"z":"Z=0.001","s":"c","m":1,"x":-0.66,"y":1.86},{"p":3,"z":"Z=0.001","s":"c","m":1,"x":0.13,"y":1.42},
  {"p":3,"z":"Z=0.001","s":"c2","m":0,"x":-2.45,"y":2.08},{"p":3,"z":"Z=0.001","s":"c2","m":1,"x":-1.84,"y":1.95},
  {"p":3,"z":"Z=0.008","s":"g","m":1,"x":-1.11,"y":2.24},{"p":3,"z":"Z=0.008","s":"g","m":1,"x":-0.93,"y":2.37},{"p":3,"z":"Z=0.008","s":"g","m":1,"x":-0.66,"y":2.42},{"p":3,"z":"Z=0.008","s":"g","m":1,"x":-0.48,"y":2.39},{"p":3,"z":"Z=0.008","s":"g","m":1,"x":-0.16,"y":2.27},{"p":3,"z":"Z=0.008","s":"g","m":1,"x":0.3,"y":2.03},{"p":3,"z":"Z=0.008","s":"g","m":1,"x":0.95,"y":1.59},{"p":3,"z":"Z=0.008","s":"g","m":1,"x":1.12,"y":1.57},
  {"p":3,"z":"Z=0.017","s":"y","m":1,"x":0.13,"y":1.42},{"p":3,"z":"Z=0.017","s":"y","m":1,"x":0.44,"y":1.57},{"p":3,"z":"Z=0.017","s":"y","m":1,"x":0.69,"y":1.71},{"p":3,"z":"Z=0.017","s":"y","m":1,"x":0.78,"y":1.75},{"p":3,"z":"Z=0.017","s":"y","m":1,"x":0.83,"y":1.71},{"p":3,"z":"Z=0.017","s":"y","m":1,"x":1.1,"y":1.57},{"p":3,"z":"Z=0.017","s":"y","m":1,"x":1.67,"y":1.21},
  {"p":3,"z":"Z=0.03","s":"o","m":1,"x":1.9,"y":0.86},{"p":3,"z":"Z=0.03","s":"o","m":1,"x":2.01,"y":0.83},{"p":3,"z":"Z=0.03","s":"o","m":1,"x":2.06,"y":0.79},{"p":3,"z":"Z=0.03","s":"o","m":1,"x":2.4,"y":0.62},{"p":3,"z":"Z=0.03","s":"o","m":1,"x":2.41,"y":0.46},{"p":3,"z":"Z=0.03","s":"o","m":1,"x":2.58,"y":0.14},{"p":3,"z":"Z=0.03","s":"o","m":1,"x":2.37,"y":-0.07}
 ],
 "diamonds": [
  {"p":1,"x":0.29,"y":0.97},{"p":1,"x":0.48,"y":0.69},{"p":1,"x":0.33,"y":0.29},{"p":1,"x":0.76,"y":0.29},
  {"p":2,"x":-0.6,"y":1.0},{"p":2,"x":0.18,"y":0.69},{"p":2,"x":0.26,"y":0.29},{"p":2,"x":0.77,"y":0.29},
  {"p":3,"x":0.3,"y":1.0},{"p":3,"x":0.78,"y":0.69},{"p":3,"x":0.56,"y":0.29},{"p":3,"x":1.46,"y":0.29}
 ],
 "bars": [
  {"p":1,"x":0.01,"x2":0.63,"y":0.97,"y2":0.97},{"p":1,"x":0.2,"x2":0.67,"y":0.69,"y2":0.69},{"p":1,"x":0.0,"x2":0.62,"y":0.29,"y2":0.29},{"p":1,"x":0.62,"x2":0.94,"y":0.29,"y2":0.29},
  {"p":1,"x":0.29,"x2":0.29,"y":0.97,"y2":1.55},{"p":1,"x":0.48,"x2":0.48,"y":0.69,"y2":1.3},{"p":1,"x":0.76,"x2":0.76,"y":0.29,"y2":0.91},{"p":1,"x":0.31,"x2":0.31,"y":0.29,"y2":0.95},
  {"p":2,"x":-0.02,"x2":0.57,"y":0.29,"y2":0.29},{"p":2,"x":0.64,"x2":0.9,"y":0.29,"y2":0.29},
  {"p":2,"x":-0.6,"x2":-1.2,"y":1.0,"y2":1.0},{"p":2,"x":0.18,"x2":-0.43,"y":0.69,"y2":0.69},
  {"p":2,"x":-0.6,"x2":-0.6,"y":1.0,"y2":1.6},{"p":2,"x":0.18,"x2":0.18,"y":0.69,"y2":1.3},{"p":2,"x":0.26,"x2":0.26,"y":0.29,"y2":0.91},{"p":2,"x":0.77,"x2":0.77,"y":0.29,"y2":0.91},
  {"p":3,"x":-0.01,"x2":0.61,"y":1.0,"y2":1.0},{"p":3,"x":0.46,"x2":1.08,"y":0.69,"y2":0.69},{"p":3,"x":0.25,"x2":0.87,"y":0.29,"y2":0.29},{"p":3,"x":1.16,"x2":1.78,"y":0.29,"y2":0.29},
  {"p":3,"x":0.3,"x2":0.3,"y":1.0,"y2":1.6},{"p":3,"x":0.78,"x2":0.78,"y":0.69,"y2":1.3},{"p":3,"x":0.56,"x2":0.56,"y":0.29,"y2":0.91},{"p":3,"x":1.46,"x2":1.46,"y":0.29,"y2":0.91}
 ],
 "heads": [
  {"p":1,"dir":"up","x":0.29,"y":1.58},{"p":1,"dir":"up","x":0.48,"y":1.33},{"p":1,"dir":"up","x":0.76,"y":0.94},
  {"p":2,"dir":"up","x":-0.6,"y":1.63},{"p":2,"dir":"up","x":0.18,"y":1.33},{"p":2,"dir":"up","x":0.26,"y":0.94},{"p":2,"dir":"up","x":0.77,"y":0.94},
  {"p":2,"dir":"left","x":-1.23,"y":1.0},{"p":2,"dir":"left","x":-0.46,"y":0.69},
  {"p":3,"dir":"up","x":0.3,"y":1.63},{"p":3,"dir":"up","x":0.78,"y":1.33},{"p":3,"dir":"up","x":0.56,"y":0.94},{"p":3,"dir":"up","x":1.46,"y":0.94}
 ],
 "crosses": [
  {"p":1,"t":"big","x":-0.45,"y":0.03},{"p":1,"t":"big","x":-0.3,"y":-0.12},{"p":1,"t":"big","x":-0.05,"y":-0.01},{"p":1,"t":"big","x":0.06,"y":0.13},{"p":1,"t":"big","x":0.14,"y":0.25},{"p":1,"t":"small","x":0.21,"y":-0.32},
  {"p":2,"t":"big","x":-0.67,"y":-0.16},{"p":2,"t":"big","x":-0.45,"y":-0.18},{"p":2,"t":"big","x":-0.43,"y":0.05},{"p":2,"t":"big","x":-0.37,"y":0.16},{"p":2,"t":"big","x":-0.32,"y":0.23},{"p":2,"t":"small","x":-0.01,"y":-0.32}
 ],
 "av": [
  {"p":1,"x":-3.38,"y":-2.0},{"p":1,"x":-3.68,"y":-1.88},
  {"p":2,"x":-3.08,"y":-2.0},{"p":2,"x":-3.4,"y":-1.88},
  {"p":3,"x":-1.5,"y":-1.99},{"p":3,"x":-1.85,"y":-1.88}
 ],
 "avhead": [
  {"p":1,"x":-3.7,"y":-1.87},{"p":2,"x":-3.42,"y":-1.87},{"p":3,"x":-1.87,"y":-1.87}
 ],
 "avtext": [
  {"p":1,"x":-3.61,"y":-2.33},{"p":2,"x":-3.35,"y":-2.33},{"p":3,"x":-1.73,"y":-2.3}
 ],
 "big": [
  {"a":"Us","x":-4.09,"y":-0.19},{"a":"Us","x":-2.51,"y":0.345},
  {"a":"alpha","x":-2.12,"y":0.38},{"a":"alpha","x":-1.0,"y":0.47}
 ]
},
"hconcat": [
 {
  "width": 237, "height": 240,
  "resolve": {"axis": {"x": "independent", "y": "independent"}},
  "layer": [
   {
    "encoding": {
     "x": {"field": "x", "type": "quantitative", "scale": {"domain": [-4.15, 2.0], "nice": false, "zero": false}, "axis": {"values": [-4,-3,-2,-1,0,1], "title": "log ( N V λ1240 / He II λ1640 )"}},
     "y": {"field": "y", "type": "quantitative", "scale": {"domain": [-2.6, 2.5], "nice": false, "zero": false}, "axis": {"values": [-2,-1,0,1,2], "title": "log ( C III]λ1908 / He II λ1640 )"}}
    },
    "layer": [
     {"data": {"name": "grid"}, "transform": [{"filter": "datum.p == 1"}, {"window": [{"op": "row_number", "as": "i"}]}], "mark": {"type": "line", "strokeWidth": 2, "clip": true},
      "encoding": {"color": {"field": "z", "type": "nominal", "scale": {"domain": ["Z=0.0001","Z=0.001","Z=0.008","Z=0.017","Z=0.03","Z=0.05"], "range": ["#0000ff","#00bfbf","#008000","#bfbf00","#ff8c00","#ff0000"]}, "legend": {"title": null, "orient": "none", "legendX": 158, "legendY": 145, "symbolType": "M-2,0L2,0", "symbolStrokeWidth": 2.5, "symbolSize": 132, "labelFont": "Liberation Serif", "labelFontSize": 11, "labelColor": "black", "fillColor": "white", "strokeColor": "#333", "padding": 4, "rowPadding": 3, "labelOffset": 8, "symbolOpacity": 1}},
       "detail": {"field": "s"}, "strokeDash": {"field": "d", "type": "nominal", "scale": {"domain": ["solid","dashed"], "range": [[1,0],[4,2]]}, "legend": null}, "order": {"field": "i"}}},
     {"data": {"name": "track"}, "transform": [{"filter": "datum.p == 1"}, {"window": [{"op": "row_number", "as": "i"}]}], "mark": {"type": "line", "strokeWidth": 3, "strokeDash": [1.5,1.5], "clip": true},
      "encoding": {"color": {"field": "z", "type": "nominal", "legend": null}, "detail": {"field": "s"}, "order": {"field": "i"}}},
     {"data": {"name": "track"}, "transform": [{"filter": "datum.p == 1 && datum.m == 1"}], "mark": {"type": "point", "shape": "M0,-1L0.235,-0.324L0.951,-0.309L0.38,0.124L0.588,0.809L0,0.4L-0.588,0.809L-0.38,0.124L-0.951,-0.309L-0.235,-0.324Z", "filled": true, "size": 85, "stroke": "#222", "strokeWidth": 0.6, "opacity": 1, "clip": true},
      "encoding": {"fill": {"field": "z", "type": "nominal", "scale": {"domain": ["Z=0.0001","Z=0.001","Z=0.008","Z=0.017","Z=0.03","Z=0.05"], "range": ["#2020d0","#159a9a","#106a10","#9a9a10","#e07a10","#d01010"]}, "legend": null}}},
     {"data": {"name": "bars"}, "transform": [{"filter": "datum.p == 1"}], "mark": {"type": "rule", "color": "#222", "strokeWidth": 1.5},
      "encoding": {"x2": {"field": "x2"}, "y2": {"field": "y2"}}},
     {"data": {"name": "heads"}, "transform": [{"filter": "datum.p == 1"}], "mark": {"type": "point", "filled": true, "color": "black", "size": 40, "opacity": 1},
      "encoding": {"shape": {"field": "dir", "type": "nominal", "scale": {"domain": ["up","left"], "range": ["triangle-up","triangle-left"]}, "legend": null}}},
     {"data": {"name": "diamonds"}, "transform": [{"filter": "datum.p == 1"}], "mark": {"type": "point", "shape": "diamond", "filled": true, "color": "black", "size": 190, "opacity": 1}},
     {"data": {"name": "crosses"}, "transform": [{"filter": "datum.p == 1 && datum.t == 'big'"}], "mark": {"type": "point", "shape": "M-1,0L1,0M0,-1L0,1", "filled": false, "color": "black", "strokeWidth": 1.6, "size": 110, "opacity": 1}},
     {"data": {"name": "crosses"}, "transform": [{"filter": "datum.p == 1 && datum.t == 'small'"}], "mark": {"type": "point", "shape": "M-0.6,0L0.6,0M0,-1.4L0,1.4", "filled": false, "color": "black", "strokeWidth": 1.2, "size": 40, "opacity": 1}},
     {"data": {"name": "big"}, "mark": {"type": "line", "color": "#222", "strokeWidth": 7.5, "strokeCap": "butt"}, "encoding": {"detail": {"field": "a"}}},
     {"data": {"name": "big"}, "mark": {"type": "line", "color": "#888", "strokeWidth": 5, "strokeCap": "butt"}, "encoding": {"detail": {"field": "a"}}},
     {"data": {"name": "big"}, "transform": [{"filter": "datum.a == 'Us' && datum.x > -3"}], "mark": {"type": "point", "shape": "triangle-right", "filled": true, "fill": "#888", "stroke": "#222", "strokeWidth": 1, "size": 260, "angle": 337, "opacity": 1}},
     {"data": {"name": "big"}, "transform": [{"filter": "datum.a == 'alpha' && datum.x > -1.5"}], "mark": {"type": "point", "shape": "triangle-right", "filled": true, "fill": "#888", "stroke": "#222", "strokeWidth": 1, "size": 260, "angle": 354, "opacity": 1}},
     {"data": {"values": [{"x": -3.29, "y": 0.47, "t": "U"}]}, "mark": {"type": "text", "font": "Liberation Serif", "fontStyle": "italic", "fontSize": 20, "color": "black"}, "encoding": {"text": {"field": "t"}}},
     {"data": {"values": [{"x": -2.93, "y": 0.24, "t": "S"}]}, "mark": {"type": "text", "font": "Liberation Serif", "fontSize": 12, "color": "black"}, "encoding": {"text": {"field": "t"}}},
     {"data": {"values": [{"x": -1.65, "y": 0.69, "t": "α"}]}, "mark": {"type": "text", "font": "Liberation Serif", "fontStyle": "italic", "fontSize": 17, "color": "black"}, "encoding": {"text": {"field": "t"}}},
     {"data": {"name": "av"}, "transform": [{"filter": "datum.p == 1"}], "mark": {"type": "line", "color": "black", "strokeWidth": 1.3}, "encoding": {"detail": {"field": "p"}}},
     {"data": {"name": "avhead"}, "transform": [{"filter": "datum.p == 1"}], "mark": {"type": "point", "shape": "triangle-right", "filled": true, "color": "black", "size": 60, "angle": 205, "opacity": 1}},
     {"data": {"name": "avtext"}, "transform": [{"filter": "datum.p == 1"}], "mark": {"type": "text", "text": "A", "align": "left", "dx": -11.5, "font": "Liberation Serif", "fontSize": 10, "color": "black"}},
     {"data": {"name": "avtext"}, "transform": [{"filter": "datum.p == 1"}], "mark": {"type": "text", "text": "V", "align": "left", "dx": -4.5, "dy": 3, "font": "Liberation Serif", "fontSize": 7, "color": "black"}},
     {"data": {"name": "avtext"}, "transform": [{"filter": "datum.p == 1"}], "mark": {"type": "text", "text": "=1", "align": "left", "dx": 0.5, "font": "Liberation Serif", "fontSize": 10, "color": "black"}}
    ]
   },
   {"data": {"values": [{"x": 0, "y": 0}]}, "mark": {"type": "point", "opacity": 0},
    "encoding": {"x": {"field": "x", "type": "quantitative", "scale": {"domain": [-4.15, 2.0], "nice": false, "zero": false}, "axis": {"orient": "top", "values": [-4,-3,-2,-1,0,1], "labels": false, "title": null}},
     "y": {"field": "y", "type": "quantitative", "scale": {"domain": [-2.6, 2.5], "nice": false, "zero": false}, "axis": {"orient": "right", "values": [-2,-1,0,1,2], "labels": false, "title": null}}}}
  ]
 },
 {
  "width": 235, "height": 240,
  "resolve": {"axis": {"x": "independent", "y": "independent"}},
  "layer": [
   {
    "encoding": {
     "x": {"field": "x", "type": "quantitative", "scale": {"domain": [-3.79, 1.42], "nice": false, "zero": false}, "axis": {"values": [-3,-2,-1,0,1], "title": "log ( N V λ1240 / C IV λ1550 )"}},
     "y": {"field": "y", "type": "quantitative", "scale": {"domain": [-2.6, 2.5], "nice": false, "zero": false}, "axis": {"values": [-2,-1,0,1,2], "labels": false, "title": null}}
    },
    "layer": [
     {"data": {"name": "grid"}, "transform": [{"filter": "datum.p == 2"}, {"window": [{"op": "row_number", "as": "i"}]}], "mark": {"type": "line", "strokeWidth": 2, "clip": true},
      "encoding": {"color": {"field": "z", "type": "nominal", "legend": null}, "detail": {"field": "s"}, "strokeDash": {"field": "d", "type": "nominal", "scale": {"domain": ["solid","dashed"], "range": [[1,0],[4,2]]}, "legend": null}, "order": {"field": "i"}}},
     {"data": {"name": "track"}, "transform": [{"filter": "datum.p == 2"}, {"window": [{"op": "row_number", "as": "i"}]}], "mark": {"type": "line", "strokeWidth": 3, "strokeDash": [1.5,1.5], "clip": true},
      "encoding": {"color": {"field": "z", "type": "nominal", "legend": null}, "detail": {"field": "s"}, "order": {"field": "i"}}},
     {"data": {"name": "track"}, "transform": [{"filter": "datum.p == 2 && datum.m == 1"}], "mark": {"type": "point", "shape": "M0,-1L0.235,-0.324L0.951,-0.309L0.38,0.124L0.588,0.809L0,0.4L-0.588,0.809L-0.38,0.124L-0.951,-0.309L-0.235,-0.324Z", "filled": true, "size": 85, "stroke": "#222", "strokeWidth": 0.6, "opacity": 1, "clip": true},
      "encoding": {"fill": {"field": "z", "type": "nominal", "legend": null}}},
     {"data": {"name": "bars"}, "transform": [{"filter": "datum.p == 2"}], "mark": {"type": "rule", "color": "#222", "strokeWidth": 1.5},
      "encoding": {"x2": {"field": "x2"}, "y2": {"field": "y2"}}},
     {"data": {"name": "heads"}, "transform": [{"filter": "datum.p == 2"}], "mark": {"type": "point", "filled": true, "color": "black", "size": 40, "opacity": 1},
      "encoding": {"shape": {"field": "dir", "type": "nominal", "scale": {"domain": ["up","left"], "range": ["triangle-up","triangle-left"]}, "legend": null}}},
     {"data": {"name": "diamonds"}, "transform": [{"filter": "datum.p == 2"}], "mark": {"type": "point", "shape": "diamond", "filled": true, "color": "black", "size": 190, "opacity": 1}},
     {"data": {"name": "crosses"}, "transform": [{"filter": "datum.p == 2 && datum.t == 'big'"}], "mark": {"type": "point", "shape": "M-1,0L1,0M0,-1L0,1", "filled": false, "color": "black", "strokeWidth": 1.6, "size": 110, "opacity": 1}},
     {"data": {"name": "crosses"}, "transform": [{"filter": "datum.p == 2 && datum.t == 'small'"}], "mark": {"type": "point", "shape": "M-0.6,0L0.6,0M0,-1.4L0,1.4", "filled": false, "color": "black", "strokeWidth": 1.2, "size": 40, "opacity": 1}},
     {"data": {"name": "av"}, "transform": [{"filter": "datum.p == 2"}], "mark": {"type": "line", "color": "black", "strokeWidth": 1.3}, "encoding": {"detail": {"field": "p"}}},
     {"data": {"name": "avhead"}, "transform": [{"filter": "datum.p == 2"}], "mark": {"type": "point", "shape": "triangle-right", "filled": true, "color": "black", "size": 60, "angle": 205, "opacity": 1}},
     {"data": {"name": "avtext"}, "transform": [{"filter": "datum.p == 2"}], "mark": {"type": "text", "text": "A", "align": "left", "dx": -11.5, "font": "Liberation Serif", "fontSize": 10, "color": "black"}},
     {"data": {"name": "avtext"}, "transform": [{"filter": "datum.p == 2"}], "mark": {"type": "text", "text": "V", "align": "left", "dx": -4.5, "dy": 3, "font": "Liberation Serif", "fontSize": 7, "color": "black"}},
     {"data": {"name": "avtext"}, "transform": [{"filter": "datum.p == 2"}], "mark": {"type": "text", "text": "=1", "align": "left", "dx": 0.5, "font": "Liberation Serif", "fontSize": 10, "color": "black"}}
    ]
   },
   {"data": {"values": [{"x": 0, "y": 0}]}, "mark": {"type": "point", "opacity": 0},
    "encoding": {"x": {"field": "x", "type": "quantitative", "scale": {"domain": [-3.79, 1.42], "nice": false, "zero": false}, "axis": {"orient": "top", "values": [-3,-2,-1,0,1], "labels": false, "title": null}},
     "y": {"field": "y", "type": "quantitative", "scale": {"domain": [-2.6, 2.5], "nice": false, "zero": false}, "axis": {"orient": "right", "values": [-2,-1,0,1,2], "labels": false, "title": null}}}}
  ]
 },
 {
  "width": 243, "height": 240,
  "resolve": {"axis": {"x": "independent", "y": "independent"}},
  "layer": [
   {
    "encoding": {
     "x": {"field": "x", "type": "quantitative", "scale": {"domain": [-2.3, 2.9], "nice": false, "zero": false}, "axis": {"values": [-2,-1,0,1,2], "title": "log ( N V λ1240 / N III]λ1750 )"}},
     "y": {"field": "y", "type": "quantitative", "scale": {"domain": [-2.6, 2.5], "nice": false, "zero": false}, "axis": {"values": [-2,-1,0,1,2], "labels": false, "title": null}}
    },
    "layer": [
     {"data": {"name": "grid"}, "transform": [{"filter": "datum.p == 3"}, {"window": [{"op": "row_number", "as": "i"}]}], "mark": {"type": "line", "strokeWidth": 2, "clip": true},
      "encoding": {"color": {"field": "z", "type": "nominal", "legend": null}, "detail": {"field": "s"}, "strokeDash": {"field": "d", "type": "nominal", "scale": {"domain": ["solid","dashed"], "range": [[1,0],[4,2]]}, "legend": null}, "order": {"field": "i"}}},
     {"data": {"name": "track"}, "transform": [{"filter": "datum.p == 3"}, {"window": [{"op": "row_number", "as": "i"}]}], "mark": {"type": "line", "strokeWidth": 3, "strokeDash": [1.5,1.5], "clip": true},
      "encoding": {"color": {"field": "z", "type": "nominal", "legend": null}, "detail": {"field": "s"}, "order": {"field": "i"}}},
     {"data": {"name": "track"}, "transform": [{"filter": "datum.p == 3 && datum.m == 1"}], "mark": {"type": "point", "shape": "M0,-1L0.235,-0.324L0.951,-0.309L0.38,0.124L0.588,0.809L0,0.4L-0.588,0.809L-0.38,0.124L-0.951,-0.309L-0.235,-0.324Z", "filled": true, "size": 85, "stroke": "#222", "strokeWidth": 0.6, "opacity": 1, "clip": true},
      "encoding": {"fill": {"field": "z", "type": "nominal", "legend": null}}},
     {"data": {"name": "bars"}, "transform": [{"filter": "datum.p == 3"}], "mark": {"type": "rule", "color": "#222", "strokeWidth": 1.5},
      "encoding": {"x2": {"field": "x2"}, "y2": {"field": "y2"}}},
     {"data": {"name": "heads"}, "transform": [{"filter": "datum.p == 3"}], "mark": {"type": "point", "filled": true, "color": "black", "size": 40, "opacity": 1},
      "encoding": {"shape": {"field": "dir", "type": "nominal", "scale": {"domain": ["up","left"], "range": ["triangle-up","triangle-left"]}, "legend": null}}},
     {"data": {"name": "diamonds"}, "transform": [{"filter": "datum.p == 3"}], "mark": {"type": "point", "shape": "diamond", "filled": true, "color": "black", "size": 190, "opacity": 1}},
     {"data": {"name": "av"}, "transform": [{"filter": "datum.p == 3"}], "mark": {"type": "line", "color": "black", "strokeWidth": 1.3}, "encoding": {"detail": {"field": "p"}}},
     {"data": {"name": "avhead"}, "transform": [{"filter": "datum.p == 3"}], "mark": {"type": "point", "shape": "triangle-right", "filled": true, "color": "black", "size": 60, "angle": 205, "opacity": 1}},
     {"data": {"name": "avtext"}, "transform": [{"filter": "datum.p == 3"}], "mark": {"type": "text", "text": "A", "align": "left", "dx": -11.5, "font": "Liberation Serif", "fontSize": 10, "color": "black"}},
     {"data": {"name": "avtext"}, "transform": [{"filter": "datum.p == 3"}], "mark": {"type": "text", "text": "V", "align": "left", "dx": -4.5, "dy": 3, "font": "Liberation Serif", "fontSize": 7, "color": "black"}},
     {"data": {"name": "avtext"}, "transform": [{"filter": "datum.p == 3"}], "mark": {"type": "text", "text": "=1", "align": "left", "dx": 0.5, "font": "Liberation Serif", "fontSize": 10, "color": "black"}}
    ]
   },
   {"data": {"values": [{"x": 0, "y": 0}]}, "mark": {"type": "point", "opacity": 0},
    "encoding": {"x": {"field": "x", "type": "quantitative", "scale": {"domain": [-2.3, 2.9], "nice": false, "zero": false}, "axis": {"orient": "top", "values": [-2,-1,0,1,2], "labels": false, "title": null}},
     "y": {"field": "y", "type": "quantitative", "scale": {"domain": [-2.6, 2.5], "nice": false, "zero": false}, "axis": {"orient": "right", "values": [-2,-1,0,1,2], "labels": false, "title": null}}}}
  ]
 }
]
}
